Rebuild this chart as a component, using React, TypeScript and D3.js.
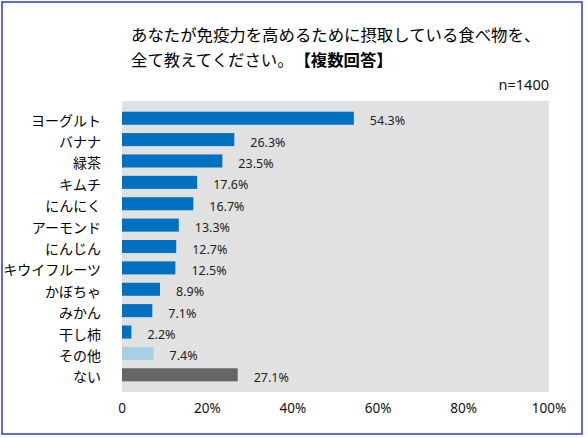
import * as d3 from 'd3'

const categories = [
  'ヨーグルト', 'バナナ', '緑茶', 'キムチ', 'にんにく', 'アーモンド', 'にんじん',
  'キウイフルーツ', 'かぼちゃ', 'みかん', '干し柿', 'その他', 'ない',
]
const values = [54.3, 26.3, 23.5, 17.6, 16.7, 13.3, 12.7, 12.5, 8.9, 7.1, 2.2, 7.4, 27.1]
const ticks = [0, 20, 40, 60, 80, 100]
const titleLines = ['あなたが免疫力を高めるために摂取している食べ物を、', '全て教えてください。']
const titleTag = '【複数回答】'
const sampleNote = 'n=1400'

const width = 588
const height = 438
const plot = { left: 122, right: 549, top: 101, bottom: 392 }

const jp = '"Noto Sans CJK JP", "Noto Sans", sans-serif'
const num = '"Noto Sans", "Liberation Sans", sans-serif'

const barColor = (cat: string) =>
  cat === 'その他' ? '#a8cfe5' : cat === 'ない' ? '#666666' : '#0070c0'

export default function App() {
  const x = d3.scaleLinear().domain([0, 100]).range([plot.left, plot.right])
  const y = d3.scaleBand<string>()
    .domain(categories)
    .range([plot.top, plot.bottom])
    .paddingInner(0.39)
    .paddingOuter(0.5)
  const bw = y.bandwidth()

  return (
    <svg
      width={width}
      height={height}
      style={{ position: 'absolute', left: 0, top: 0, display: 'block', background: '#fff' }}
    >
      <rect x={2} y={2} width={580} height={432} fill="#fff" stroke="#3a43d2" strokeWidth={1.6} />

      {/* title */}
      <text x={131} y={40.5} fontFamily={jp} fontSize={16.4} fill="#000">{titleLines[0]}</text>
      <text x={131} y={65.5} fontFamily={jp} fontSize={16.4} fill="#000">
        {titleLines[1]}
        <tspan dx={9} fontWeight="bold">{titleTag}</tspan>
      </text>
      <text x={549} y={90} textAnchor="end" fontFamily={num} fontSize={14.5} fill="#111">{sampleNote}</text>

      {/* plot background */}
      <rect x={plot.left} y={plot.top} width={plot.right - plot.left} height={plot.bottom - plot.top} fill="#e1e1e1" />

      {categories.map((c, i) => {
        const y0 = y(c)!
        const cy = y0 + bw / 2
        return (
          <g key={c}>
            <rect x={x(0)} y={y0} width={x(values[i]) - x(0)} height={bw} fill={barColor(c)} />
            <text x={101} y={cy + 7.5} textAnchor="end" fontFamily={jp} fontSize={14} fill="#000">{c}</text>
            <text x={x(values[i]) + 16} y={cy + 7} fontFamily={num} fontSize={12.5} fill="#222">
              {values[i].toFixed(1)}%
            </text>
          </g>
        )
      })}

      {/* x axis labels */}
      {ticks.map(t => (
        <text key={t} x={x(t)} y={413} textAnchor="middle" fontFamily={num} fontSize={13.5} fill="#111">
          {t === 0 ? '0' : `${t}%`}
        </text>
      ))}
    </svg>
  )
}
